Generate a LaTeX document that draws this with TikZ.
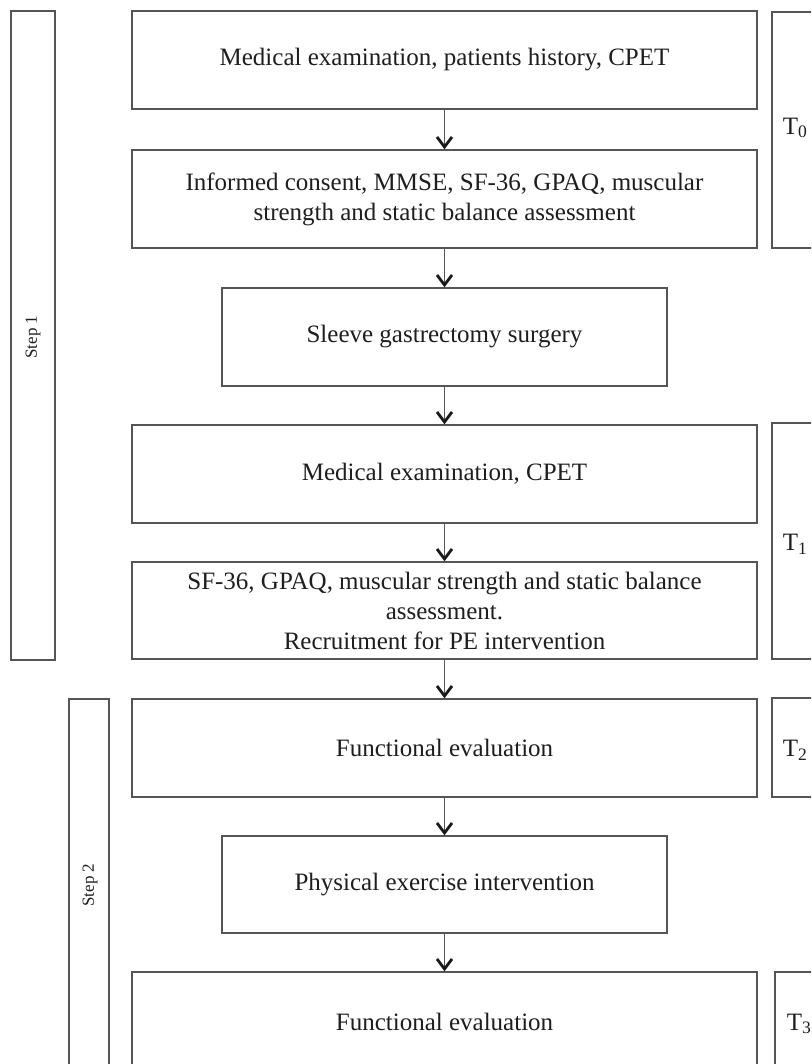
\documentclass[tikz,border=0pt]{standalone}
\usepackage{fontspec}
\setmainfont{Liberation Serif}
\usetikzlibrary{arrows.meta}
\definecolor{linec}{HTML}{555555}
\definecolor{textc}{HTML}{1E1E1E}
\begin{document}
\begin{tikzpicture}[x=1pt,y=-1pt,
  box/.style={draw=linec, line width=1.4pt, rectangle, inner sep=0pt, align=center,
    text=textc, font=\fontsize{25}{30}\selectfont},
  widebox/.style={box, minimum width=625pt},
  narrowbox/.style={box, minimum width=445pt},
  sidebox/.style={draw=linec, line width=1.4pt, rectangle, inner sep=0pt},
  steplabel/.style={text=textc, font=\fontsize{17}{20}\selectfont, rotate=90},
  tlabel/.style={text=textc, font=\fontsize{25}{30}\selectfont},
  arr/.style={draw=linec, line width=1.4pt,
    -{Straight Barb[length=10pt, width=15pt, line width=2.8pt, color=black!90]}}]
\useasboundingbox (0,0) rectangle (811,1064);
\clip (0,0) rectangle (811,1064);
\fill[white] (0,0) rectangle (811,1064);

% step boxes
\node[sidebox, minimum width=44pt, minimum height=649pt] (s1) at (33,335.5) {};
\node[steplabel] (s1t) at (33,337) {Step 1};
\node[sidebox, minimum width=40pt, minimum height=376pt] (s2) at (89,887) {};
\node[steplabel] (s2t) at (90,885) {Step 2};

% main boxes
\node[widebox, minimum height=98pt] (b1) at (444.5,60) {Medical examination, patients history, CPET};
\node[widebox, minimum height=98pt] (b2) at (444.5,199) {Informed consent, MMSE, SF-36, GPAQ, muscular\\strength and static balance assessment};
\node[narrowbox, minimum height=98pt] (b3) at (444.5,337) {Sleeve gastrectomy surgery};
\node[widebox, minimum height=98pt] (b4) at (444.5,474) {Medical examination, CPET};
\node[widebox, minimum height=97pt] (b5) at (444.5,610.5) {SF-36, GPAQ, muscular strength and static balance\\assessment.\\Recruitment for PE intervention};
\node[widebox, minimum height=98pt] (b6) at (444.5,748) {Functional evaluation};
\node[narrowbox, minimum height=97pt] (b7) at (444.5,884.5) {Physical exercise intervention};
\node[widebox, minimum height=100pt] (b8) at (444.5,1022) {Functional evaluation};

% T boxes
\node[sidebox, minimum width=80pt, minimum height=236pt] (t0b) at (812,130) {};
\node[tlabel] (t0) at (795,128) {T\textsubscript{0}};
\node[sidebox, minimum width=80pt, minimum height=236pt] (t1b) at (812,541) {};
\node[tlabel] (t1) at (795,544) {T\textsubscript{1}};
\node[sidebox, minimum width=80pt, minimum height=99pt] (t2b) at (812,747.5) {};
\node[tlabel] (t2) at (795,750) {T\textsubscript{2}};
\node[sidebox, minimum width=80pt, minimum height=100pt] (t3b) at (815,1022) {};
\node[tlabel] (t3) at (799,1024) {T\textsubscript{3}};

% arrows
\draw[arr] (b1) -- (b2);
\draw[arr] (b2) -- (b3);
\draw[arr] (b3) -- (b4);
\draw[arr] (b4) -- (b5);
\draw[arr] (b5) -- (b6);
\draw[arr] (b6) -- (b7);
\draw[arr] (b7) -- (b8);
\end{tikzpicture}
\end{document}
